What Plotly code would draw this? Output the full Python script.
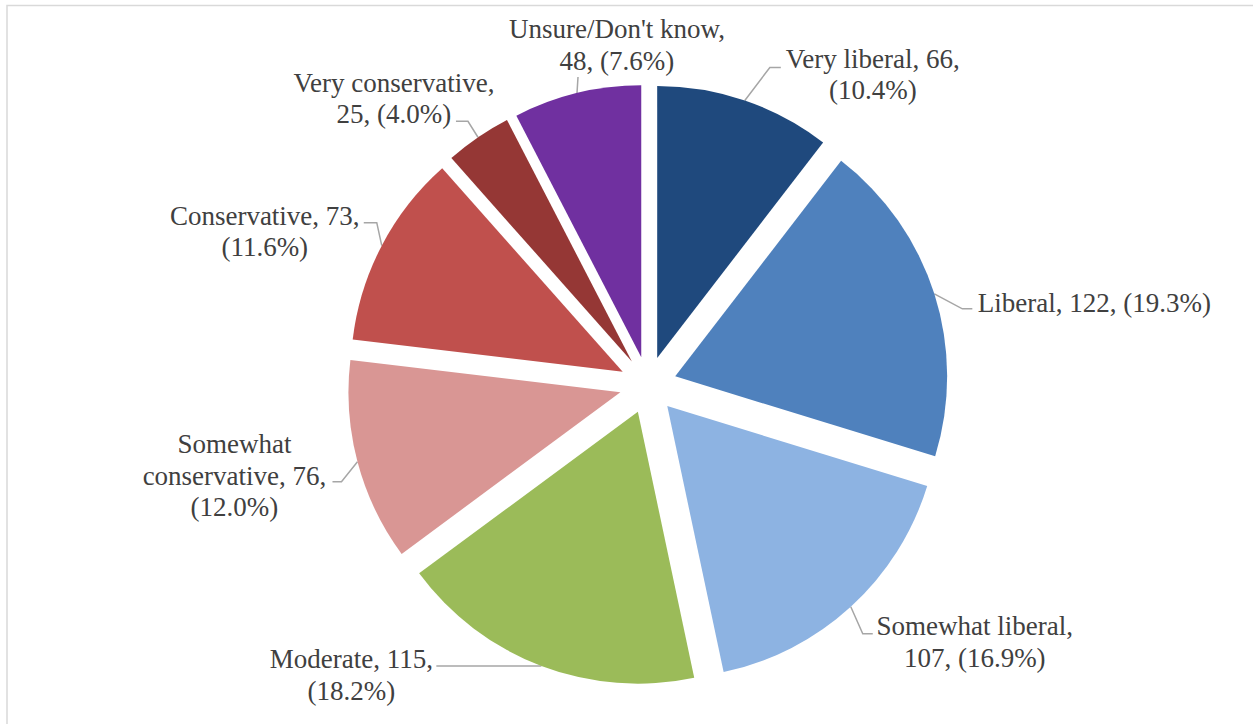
import math
import textwrap
import plotly.graph_objects as go

# ---- data ----
categories = ["Very liberal", "Liberal", "Somewhat liberal", "Moderate",
              "Somewhat conservative", "Conservative", "Very conservative",
              "Unsure/Don't know"]
counts = [66, 122, 107, 115, 76, 73, 25, 48]
colors = ["#1F497D", "#4F81BD", "#8DB3E2", "#9BBB59",
          "#D99694", "#C0504D", "#953735", "#7030A0"]

# ---- layout / style ----
W, H = 1253, 724
CX, CY = 648.0, 385.0          # pie centre (px)
R_OUTER = 300.5                # radius incl. explosion (px)
PULL = 0.105
r = R_OUTER / (1 + PULL)
d = PULL * r
FONT = "Liberation Serif"
FS = 27
LINE_GAP = 31.5
TEXT_COLOR = "#404040"
LEADER_COLOR = "#A6A6A6"
wrap_width = [18, 30, 18, 18, 18, 18, 18, 18]
# leader bend / end and text placement, relative to the arc midpoint of each slice (px)
bend_off = [(25, -33), (28, 15), (12, 27), (0, 0), (-16, 20), (-5, -23), (-10, -16), (1, -16)]
end_off = [(36, -33), (38, 15), (22, 27), (-105, 0), (-25, 20), (-18, -23), (-22, -16), (1, -16)]
text_off = [(128, -34), (160, 17), (124, 27), (-190, 1), (-123, -10), (-117, -22), (-84, -47), (40, -56)]

total = sum(counts)
pcts = [100.0 * c / total for c in counts]

# arc midpoints from the data
arc_mid = []
cum = 0
for c in counts:
    mid = (cum + c / 2) / total * 2 * math.pi
    cum += c
    ux, uy = math.sin(mid), -math.cos(mid)
    arc_mid.append((CX + (d + r) * ux, CY + (d + r) * uy))

fig = go.Figure()

fig.add_trace(go.Pie(
    values=counts, labels=categories, sort=False, direction="clockwise",
    rotation=0, pull=PULL, textinfo="none", showlegend=False,
    marker=dict(colors=colors, line=dict(width=0)),
    domain=dict(x=[(CX - R_OUTER) / W, (CX + R_OUTER) / W],
                y=[(H - CY - R_OUTER) / H, (H - CY + R_OUTER) / H]),
    hovertemplate="%{label}: %{value} (%{percent})<extra></extra>",
))

# leader lines
lx, ly = [], []
for (ax, ay), (bx, by), (ex, ey) in zip(arc_mid, bend_off, end_off):
    lx += [ax, ax + bx, ax + ex, None]
    ly += [ay, ay + by, ay + ey, None]
fig.add_trace(go.Scatter(x=lx, y=ly, mode="lines", hoverinfo="skip",
                         line=dict(color=LEADER_COLOR, width=1.5), showlegend=False))

# labels (one text point per line)
tx, ty, tt = [], [], []
for i, name in enumerate(categories):
    full = f"{name}, {counts[i]}, ({pcts[i]:.1f}%)"
    lines = textwrap.wrap(full, wrap_width[i])
    ax, ay = arc_mid[i]
    ox, oy = text_off[i]
    for k, line in enumerate(lines):
        base = ay + oy + k * LINE_GAP
        tx.append(ax + ox)
        ty.append(base - 0.35 * FS + 4)
        tt.append(line)
fig.add_trace(go.Scatter(x=tx, y=ty, text=tt, mode="text", textposition="middle center",
                         textfont=dict(family=FONT, size=FS, color=TEXT_COLOR),
                         hoverinfo="skip", showlegend=False))

fig.update_layout(
    width=W, height=H, margin=dict(l=0, r=0, t=0, b=0),
    paper_bgcolor="white", plot_bgcolor="rgba(0,0,0,0)",
    xaxis=dict(range=[0, W], visible=False, fixedrange=True),
    yaxis=dict(range=[H, 0], visible=False, fixedrange=True),
    shapes=[dict(type="rect", xref="paper", yref="paper",
                 x0=7 / W, x1=1.02, y0=-0.02, y1=1 - 5.5 / H,
                 line=dict(color="#D9D9D9", width=1.5), layer="below")],
)

fig.write_html("out.html", config={"displayModeBar": False},
               post_script="document.body.style.margin='0';document.body.style.overflow='hidden';")
